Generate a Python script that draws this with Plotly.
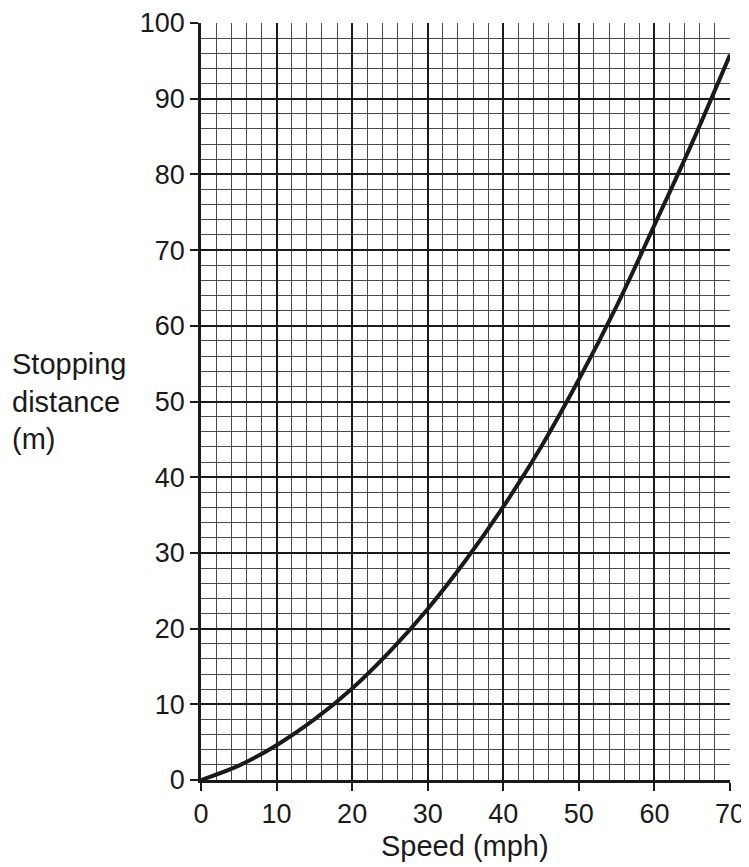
import plotly.graph_objects as go

speed_mph = [0, 5, 10, 15, 20, 25, 30, 35, 40, 45, 50, 55, 60, 65, 70]
stopping_m = [0, 1.9, 4.6, 8.0, 12.1, 17.0, 22.6, 29.0, 36.1, 44.0, 52.9, 62.6, 73.3, 84.2, 95.8]

x_ticks = [0, 10, 20, 30, 40, 50, 60, 70]
y_ticks = [0, 10, 20, 30, 40, 50, 60, 70, 80, 90, 100]

# page has an 8px body offset; figure sized to fit the window
OFF = 8
W, H = 741, 859
ml, mt = 201 - OFF, 23 - OFF
pw, ph = 730 - 201, 780 - 23
mr = W - ml - pw
mb = H - mt - ph

fig = go.Figure()
fig.add_trace(go.Scatter(
    x=speed_mph, y=stopping_m, mode="lines",
    line=dict(color="#1a1a1a", width=4, shape="spline", smoothing=1.0),
    hoverinfo="skip", showlegend=False,
))

FAM = "Liberation Sans, Arial, sans-serif"
tick_font = dict(family=FAM, size=27, color="#1a1a1a")
title_font = dict(family=FAM, size=29, color="#1a1a1a")

common = dict(
    showline=True, linecolor="#1a1a1a", linewidth=2.5, mirror=False,
    ticks="outside", ticklen=8, tickwidth=2, tickcolor="#1a1a1a",
    showgrid=True, gridcolor="#1a1a1a", gridwidth=1.8,
    zeroline=False, tickfont=tick_font, automargin=False,
    minor=dict(dtick=2, showgrid=True, gridcolor="#4a4a4a", gridwidth=1.2, ticks=""),
)

fig.update_xaxes(range=[0, 70], tickvals=x_ticks, **common)
fig.update_yaxes(range=[0, 100], tickvals=y_ticks, **common)

def px_to_paper(px, py):
    # px, py are page pixel coordinates
    return (px - OFF - ml) / pw, (mt + ph - (py - OFF)) / ph

yx, yy = px_to_paper(10, 401)
fig.add_annotation(
    x=yx, y=yy, xref="paper", yref="paper", showarrow=False,
    text="Stopping<br>distance<br>(m)", align="left", xanchor="left", yanchor="middle",
    font=title_font,
)
xx, xy = px_to_paper(465, 846)
fig.add_annotation(
    x=xx, y=xy, xref="paper", yref="paper", showarrow=False,
    text="Speed (mph)", xanchor="center", yanchor="middle",
    font=title_font,
)

fig.update_layout(
    width=W, height=H,
    margin=dict(l=ml, r=mr, t=mt, b=mb),
    plot_bgcolor="white", paper_bgcolor="white",
    font=tick_font,
)

fig.write_html("out.html")
